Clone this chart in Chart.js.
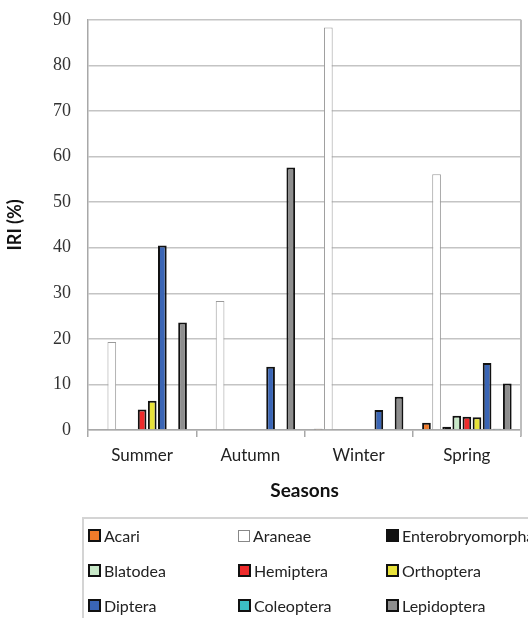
<!DOCTYPE html>
<html>
<head>
<meta charset="utf-8">
<script src="https://cdn.jsdelivr.net/npm/chart.js@4.4.1/dist/chart.umd.min.js"></script>
<style>
  html, body { margin: 0; padding: 0; background: #fff; }
  #wrap { position: relative; width: 528px; height: 618px; overflow: hidden; }
  #wrap canvas { position: absolute; left: 0; top: -8px; }
  #legend {
    position: absolute; left: 82px; top: 517px; width: 460px; height: 110px;
    border: 2px solid #d4d4d4; box-sizing: border-box;
    font-family: "Lato", "Open Sans", sans-serif; font-size: 16px; color: #222;
  }
  .item { position: absolute; display: flex; align-items: center; white-space: nowrap; }
  .sw { width: 9px; height: 9px; border: 2px solid #111; margin-right: 3px; }
</style>
</head>
<body>
<div id="wrap">
  <canvas id="iriChart" width="528" height="626"></canvas>
  <div id="legend"></div>
</div>
<script>
"use strict";

// categories and series (IRI %)
const seasons = ['Summer', 'Autumn', 'Winter', 'Spring'];
const taxa = ['Acari', 'Araneae', 'Enterobryomorpha', 'Blatodea', 'Hemiptera', 'Orthoptera', 'Diptera', 'Coleoptera', 'Lepidoptera'];

const acari            = [null, null, 0.3, 1.6];
const araneae          = [19.3, 28.3, 88.3, 56.1];
const enterobryomorpha = [null, null, null, 0.7];
const blatodea         = [null, null, null, 3.1];
const hemiptera        = [4.5, null, null, 2.9];
const orthoptera       = [6.4, null, null, 2.8];
const diptera          = [40.5, 13.9, 4.4, 14.7];
const coleoptera       = [null, null, null, 0.3];
const lepidoptera      = [23.6, 57.6, 7.3, 10.2];

const yTicks = [0, 10, 20, 30, 40, 50, 60, 70, 80, 90];

const series = [acari, araneae, enterobryomorpha, blatodea, hemiptera, orthoptera, diptera, coleoptera, lepidoptera];
const fills   = ['#f07a2a', '#ffffff', '#111111', '#c8e8c8', '#ee2b2b', '#e8e23a', '#3a65b5', '#3cbfc6', '#8e8e8e'];
const borders = ['#111', '#9a9a9a', '#111', '#111', '#111', '#111', '#111', '#111', '#111'];

const rightBorder = {
    id: 'rightBorder',
    afterDraw(chart) {
        const { ctx, chartArea } = chart;
        ctx.save();
        ctx.strokeStyle = '#bdbdbd';
        ctx.lineWidth = 2;
        ctx.beginPath();
        ctx.moveTo(chartArea.right, chartArea.top);
        ctx.lineTo(chartArea.right, chartArea.bottom + 6);
        ctx.stroke();
        ctx.restore();
    }
};

const ctx = document.getElementById('iriChart').getContext('2d');
new Chart(ctx, {
    type: 'bar',
    data: {
        labels: seasons,
        datasets: taxa.map((name, i) => ({
            label: name,
            data: series[i],
            backgroundColor: fills[i],
            borderColor: borders[i],
            borderWidth: i === 1 ? 1 : 2,
            borderSkipped: 'bottom',
            barPercentage: 0.86,
            categoryPercentage: 0.84
        }))
    },
    options: {
        responsive: false, animation: false,
        layout: { padding: { top: 4, right: 7, bottom: 112, left: 0 } },
        plugins: { legend: { display: false }, tooltip: { enabled: false } },
        scales: {
            x: {
                grid: { offset: true, drawOnChartArea: false, drawTicks: true, tickLength: 7, color: '#a8a8a8', lineWidth: 1.5 },
                border: { color: '#a8a8a8', width: 1.5 },
                ticks: { color: '#222', font: { family: '"Lato", "Open Sans", sans-serif', size: 17 }, padding: 8 },
                title: { display: true, text: 'Seasons', color: '#111', font: { family: '"Lato", "Open Sans", sans-serif', size: 19, weight: 'bold' }, padding: { top: 4 } },
                afterFit(scale) { scale.height = 76; }
            },
            y: {
                min: 0, max: 90,
                afterBuildTicks(scale) { scale.ticks = yTicks.map(v => ({ value: v })); },
                grid: { color: '#c4c4c4', lineWidth: 1.5, drawTicks: false },
                border: { color: '#a8a8a8', width: 1.5 },
                ticks: { color: '#333', font: { family: '"Liberation Serif"', size: 18 }, padding: 17 },
                title: { display: true, text: 'IRI (%)', color: '#111', font: { family: '"Lato", "Open Sans", sans-serif', size: 18, weight: 'bold' }, padding: { bottom: 8 } },
                afterFit(scale) { scale.width = 88; }
            }
        }
    },
    plugins: [rightBorder]
});

// legend, 3 columns x 3 rows
const legend = document.getElementById('legend');
const colX = [4, 154, 302];
const rowY = [7, 42, 77];
taxa.forEach((name, i) => {
    const el = document.createElement('div');
    el.className = 'item';
    el.style.left = colX[i % 3] + 'px';
    el.style.top = rowY[Math.floor(i / 3)] + 'px';
    const sw = document.createElement('span');
    sw.className = 'sw';
    sw.style.background = fills[i];
    if (i === 1) { sw.style.border = '1px solid #888'; sw.style.width = '10px'; sw.style.height = '10px'; }
    el.appendChild(sw);
    el.appendChild(document.createTextNode(name));
    legend.appendChild(el);
});
</script>
</body>
</html>
